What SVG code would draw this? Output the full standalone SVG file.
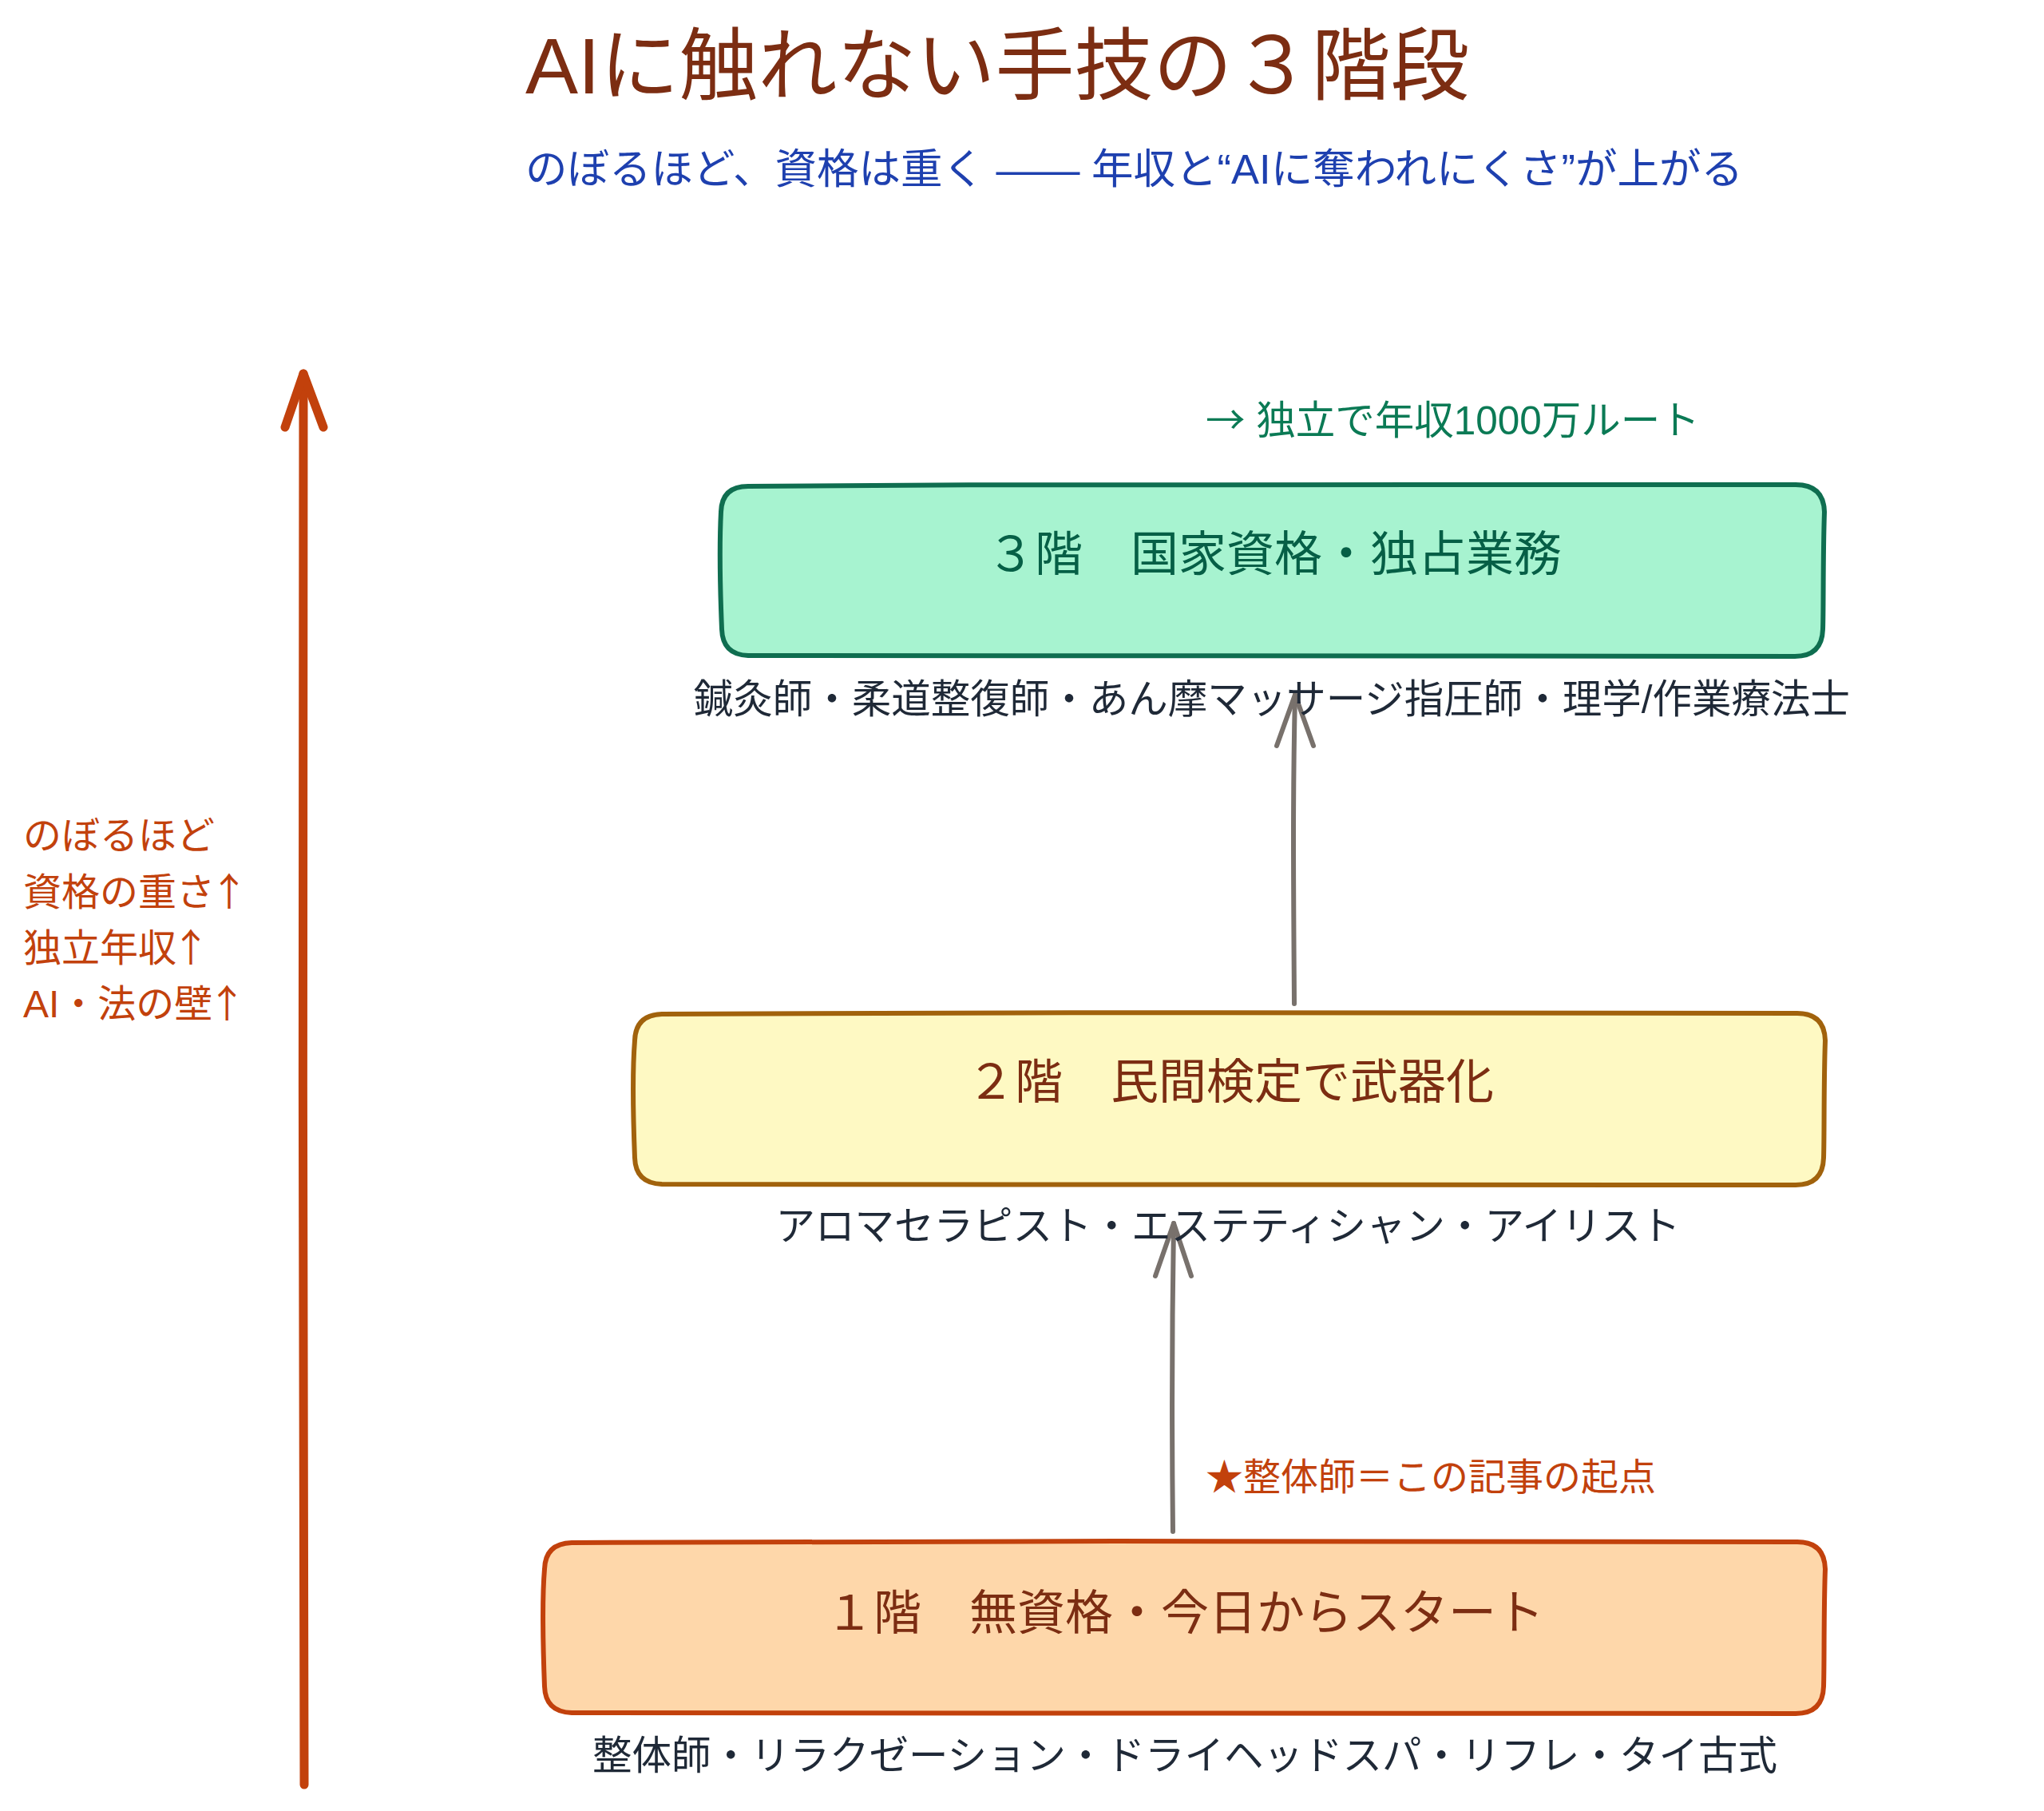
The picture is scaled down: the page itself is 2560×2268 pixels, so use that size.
<svg xmlns="http://www.w3.org/2000/svg" width="2560" height="2268" viewBox="0 0 2560 2268">
<style>
text { font-family: "Liberation Sans", "Noto Sans CJK JP", sans-serif; }
.cjk { font-family: "Noto Sans CJK JP", sans-serif; }
.title { font-size: 99px; fill: #7c2d12; }
.sub { font-size: 52.5px; fill: #1e40af; }
.box { stroke-width: 6; stroke-linejoin: round; }
.t3 { fill: #a7f3d0; stroke: #0f6e50; }
.t2 { fill: #fef9c3; stroke: #a1620c; }
.t1 { fill: #fed7aa; stroke: #c2410c; }
.lbl { font-size: 60px; text-anchor: middle; }
.desc { font-size: 49.5px; fill: #1f2937; text-anchor: middle; }
.note { font-size: 47px; fill: #c2410c; }
.side { font-size: 48px; fill: #c2410c; }
.gray { fill: none; stroke: #78716c; stroke-width: 6; stroke-linecap: round; stroke-linejoin: round; }
.big { fill: none; stroke: #c2410c; stroke-width: 11; stroke-linecap: round; stroke-linejoin: round; }
</style>
<rect width="2560" height="2268" fill="#ffffff"/>

<g id="title">
<text class="title" x="658" y="117">AIに触れない手技の３階段</text>
<text class="sub" x="658" y="230">のぼるほど、資格は重く —— 年収と“AIに奪われにくさ”が上がる</text>
</g>

<g id="connectors">
<path class="big" d="M 381 2235 C 380 1700, 378 1000, 380 468"/>
<path class="big" d="M 357 535 L 380 468 L 405 535"/>
<path class="gray" d="M 1621 1257 C 1620 1100, 1619 1000, 1622 870"/>
<path class="gray" d="M 1599 934 L 1622 870 L 1645 934"/>
<path class="gray" d="M 1469 1918 C 1467 1750, 1468 1650, 1470 1532"/>
<path class="gray" d="M 1447 1598 L 1470 1532 L 1492 1598"/>
</g>

<g id="tier3">
<path class="box t3" d="M 937 609 C 1400 605, 1900 606, 2249 607 Q 2284 607 2285 641 C 2283 700, 2284 760, 2283 788 Q 2282 822 2248 822 C 1800 821, 1300 822, 937 821 Q 905 820 904 788 C 902 740, 901 680, 903 641 Q 904 609 937 609 Z"/>
<text class="lbl" x="1596" y="715" fill="#065f46">３階　国家資格・独占業務</text>
<text class="desc" x="1593" y="893">鍼灸師・柔道整復師・あん摩マッサージ指圧師・理学/作業療法士</text>
</g>

<g id="tier3-note">
<text x="1510" y="544" font-size="49.5" fill="#0b7a55"><tspan class="cjk">→</tspan> 独立で年収1000万ルート</text>
</g>

<g id="tier2">
<path class="box t2" d="M 829 1270 C 1300 1267, 1900 1268, 2251 1269 Q 2285 1269 2286 1303 C 2284 1360, 2285 1420, 2284 1450 Q 2283 1484 2249 1484 C 1800 1483, 1300 1484, 829 1483 Q 796 1482 795 1450 C 793 1400, 792 1340, 795 1303 Q 796 1271 829 1270 Z"/>
<text class="lbl" x="1541" y="1376" fill="#7c2d12">２階　民間検定で武器化</text>
<text class="desc" x="1538" y="1553">アロマセラピスト・エステティシャン・アイリスト</text>
</g>

<g id="tier1">
<path class="box t1" d="M 716 1932 C 1200 1929, 1800 1930, 2251 1931 Q 2285 1931 2286 1965 C 2284 2020, 2285 2080, 2284 2112 Q 2283 2146 2249 2146 C 1800 2145, 1200 2146, 716 2145 Q 683 2144 682 2112 C 680 2060, 679 2000, 682 1965 Q 683 1933 716 1932 Z"/>
<text class="lbl" x="1484" y="2041" fill="#7c2d12">１階　無資格・今日からスタート</text>
<text class="desc" x="1484" y="2216">整体師・リラクゼーション・ドライヘッドスパ・リフレ・タイ古式</text>
</g>

<g id="start-note">
<text class="note" x="1510" y="1866">★整体師＝この記事の起点</text>
</g>

<g id="axis-note">
<text class="side" x="29" y="1063">のぼるほど</text>
<text class="side" x="29" y="1134">資格の重さ<tspan class="cjk" dx="-6">↑</tspan></text>
<text class="side" x="29" y="1204">独立年収<tspan class="cjk" dx="-6">↑</tspan></text>
<text class="side" x="29" y="1274">AI・法の壁<tspan class="cjk" dx="-6">↑</tspan></text>
</g>
</svg>
